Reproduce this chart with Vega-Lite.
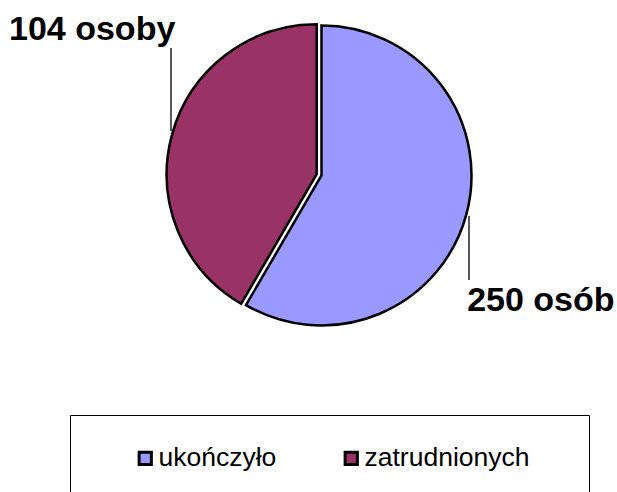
{
  "$schema": "https://vega.github.io/schema/vega-lite/v6.json",
  "width": 591,
  "height": 351,
  "padding": {"left": 26, "top": 0, "right": 0, "bottom": 141},
  "autosize": {"type": "none"},
  "background": "white",
  "config": {"view": {"stroke": null}, "font": "Liberation Sans"},
  "data": {
    "values": [
      {"kategoria": "ukończyło", "wartosc": 146, "etykieta": "250 osób"},
      {"kategoria": "zatrudnionych", "wartosc": 104, "etykieta": "104 osoby"}
    ]
  },
  "layer": [
    {
      "mark": {"type": "arc", "outerRadius": 150, "stroke": "black", "strokeWidth": 2.5},
      "encoding": {
        "theta": {"field": "wartosc", "type": "quantitative", "stack": true},
        "order": {"field": "kategoria", "type": "ordinal", "sort": "ascending"},
        "color": {
          "field": "kategoria",
          "type": "nominal",
          "scale": {"domain": ["ukończyło", "zatrudnionych"], "range": ["#9999FF", "#993366"]},
          "legend": {
            "orient": "none",
            "legendX": 44,
            "legendY": 415,
            "direction": "horizontal",
            "title": " ",
            "titleOrient": "left",
            "titleFontSize": 26,
            "titlePadding": 32,
            "symbolType": "square",
            "symbolSize": 150,
            "symbolStrokeColor": "black",
            "symbolStrokeWidth": 3,
            "symbolOpacity": 1,
            "labelFontSize": 26.5,
            "labelFont": "Liberation Sans",
            "labelColor": "black",
            "labelOffset": 0,
            "labelLimit": 400,
            "columnPadding": 61,
            "padding": 30,
            "strokeColor": "black",
            "fillColor": "white",
            "labelExpr": "datum.label === 'zatrudnionych' ? datum.label + '\u00a0\u00a0\u00a0\u00a0\u200b' : datum.label"
          }
        },
        "opacity": {"condition": {"test": "datum.kategoria === 'ukończyło'", "value": 1}, "value": 0}
      }
    },
    {
      "mark": {"type": "arc", "outerRadius": 150, "stroke": "black", "strokeWidth": 2.5, "x": {"expr": "width/2 - 4.8"}, "y": {"expr": "height/2 - 1.3"}},
      "encoding": {
        "theta": {"field": "wartosc", "type": "quantitative", "stack": true},
        "order": {"field": "kategoria", "type": "ordinal", "sort": "ascending"},
        "color": {"field": "kategoria", "type": "nominal"},
        "opacity": {"condition": {"test": "datum.kategoria === 'zatrudnionych'", "value": 1}, "value": 0}
      }
    },
    {
      "mark": {"type": "text", "radius": 262, "thetaOffset": 0.279, "dx": -5, "fontSize": 34, "fontWeight": "bold", "font": "Liberation Sans", "align": "center", "baseline": "alphabetic", "color": "black"},
      "encoding": {
        "theta": {"field": "wartosc", "type": "quantitative", "stack": true},
        "order": {"field": "kategoria", "type": "ordinal", "sort": "ascending"},
        "text": {"field": "etykieta", "type": "nominal"}
      }
    },
    {
      "transform": [{"filter": "datum.kategoria === 'zatrudnionych'"}],
      "mark": {"type": "rule", "color": "black", "strokeWidth": 1.3},
      "encoding": {"x": {"value": 145}, "y": {"value": 48}, "x2": {"value": 145}, "y2": {"value": 131}}
    },
    {
      "transform": [{"filter": "datum.kategoria === 'ukończyło'"}],
      "mark": {"type": "rule", "color": "black", "strokeWidth": 1.3},
      "encoding": {"x": {"value": 443}, "y": {"value": 216}, "x2": {"value": 443}, "y2": {"value": 280}}
    }
  ]
}
